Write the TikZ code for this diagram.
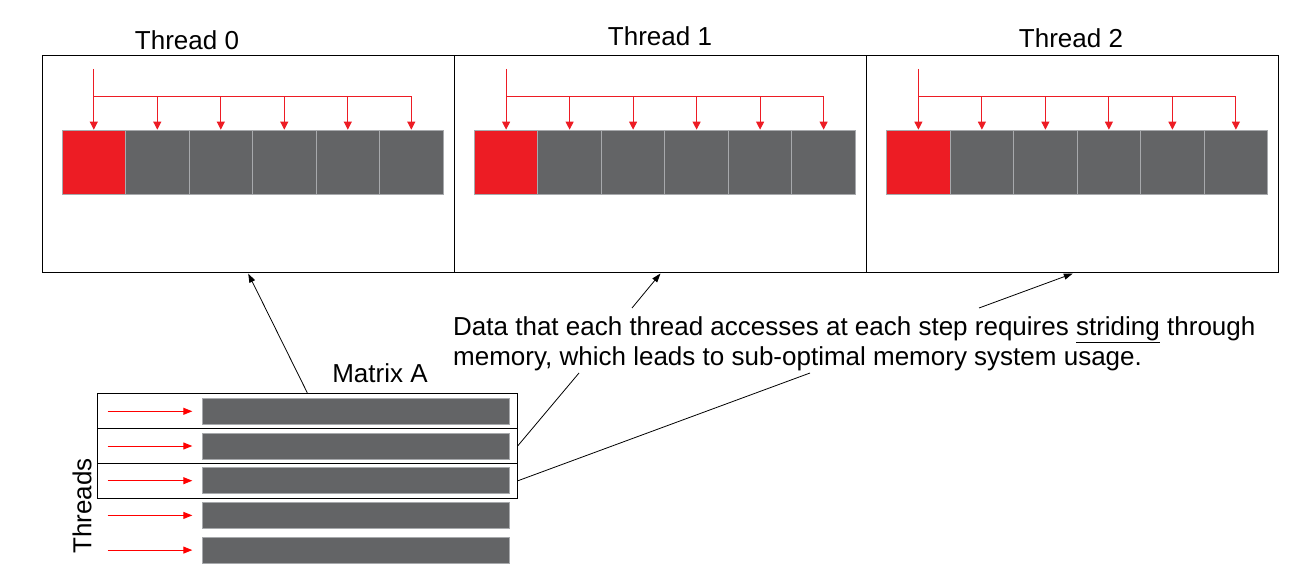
\documentclass[tikz,border=0pt]{standalone}
\usepackage{fontspec}
\setmainfont{Liberation Sans}
\usetikzlibrary{arrows.meta}
\definecolor{stepred}{HTML}{ED1C24}
\definecolor{cellgray}{HTML}{636466}
\definecolor{cellline}{HTML}{A7A9AC}
\tikzset{
  label text/.style={font=\fontsize{26}{30}\selectfont,inner sep=0pt},
  thread box/.style={draw=black,line width=1pt,minimum width=412.3pt,minimum height=217pt,inner sep=0pt},
  cell/.style={draw=cellline,fill=cellgray,line width=0.8pt,minimum width=63.5pt,minimum height=64.5pt,inner sep=0pt},
  row box/.style={draw=black,line width=1pt,minimum width=420pt,minimum height=35pt,inner sep=0pt},
  bar/.style={draw=cellline,fill=cellgray,line width=1pt,minimum width=307.5pt,minimum height=26pt,inner sep=0pt},
  bus/.style={draw=stepred,line width=1pt},
  step arrow/.style={bus,-{Triangle[width=8pt,length=8pt]}},
  row arrow/.style={draw=red,line width=1pt,-{Triangle[width=7pt,length=9pt]}},
  pointer/.style={draw=black,line width=0.8pt},
  pointer arrow/.style={pointer,-{Triangle[width=6pt,length=9pt]}}
}

\begin{document}
\begin{tikzpicture}[x=1pt,y=-1pt]
  \useasboundingbox (0,0) rectangle (1311,569);
  % the three thread panels
  \foreach \t in {0,1,2} {
    \node[thread box] (t\t) at (248.2+412.3*\t,164.5) {};
    \node[cell,fill=stepred] (c\t1) at (93.8+412.3*\t,162.3) {};
    \foreach \c in {2,...,6} {
      \node[cell] (c\t\c) at (93.8+412.3*\t+63.5*\c-63.5,162.3) {};
    };
    \draw[step arrow] (c\t1.north |- 0,69) -- (c\t1.north);
    \draw[bus] (c\t1.north |- 0,96.5) -- (c\t6.north |- 0,96.5);
    \foreach \c in {2,...,6} {
      \draw[step arrow] (c\t\c.north |- 0,96.5) -- (c\t\c.north);
    };
  };
  \node[label text] (h0) at (187,40) {Thread 0};
  \node[label text] (h1) at (660,36) {Thread 1};
  \node[label text] (h2) at (1071,38) {Thread 2};
  % matrix A
  \foreach \i in {1,2,3} {
    \node[row box] (r\i) at (307.3,375.8+35*\i) {};
  };
  \foreach \i in {1,...,5} {
    \node[bar] (b\i) at (356,376.6+34.7*\i) {};
    \coordinate (s\i) at (107.7,376.6+34.7*\i);
    \draw[row arrow] (s\i) -- (192.3,376.6+34.7*\i);
  };
  \node[label text] (mat) at (380,373) {Matrix A};
  \node[label text,rotate=90] (thr) at (82,506) {Threads};
  % note and its pointers
  \node[label text,align=left,anchor=base west] (note) at (453,365)
    {Data that each thread accesses at each step requires \underline{striding} through\\
     memory, which leads to sub-optimal memory system usage.};
  \coordinate (q1) at (632,308);
  \coordinate (q2) at (979,308);
  \coordinate (q3) at (579,373);
  \coordinate (q4) at (810,373);
  \draw[pointer arrow] (r1.north) -- (t0.south);
  \draw[pointer arrow] (q1) -- (t1.south);
  \draw[pointer arrow] (q2) -- (t2.south);
  \draw[pointer] (r2.east) -- (q3);
  \draw[pointer] (r3.east) -- (q4);
\end{tikzpicture}
\end{document}
